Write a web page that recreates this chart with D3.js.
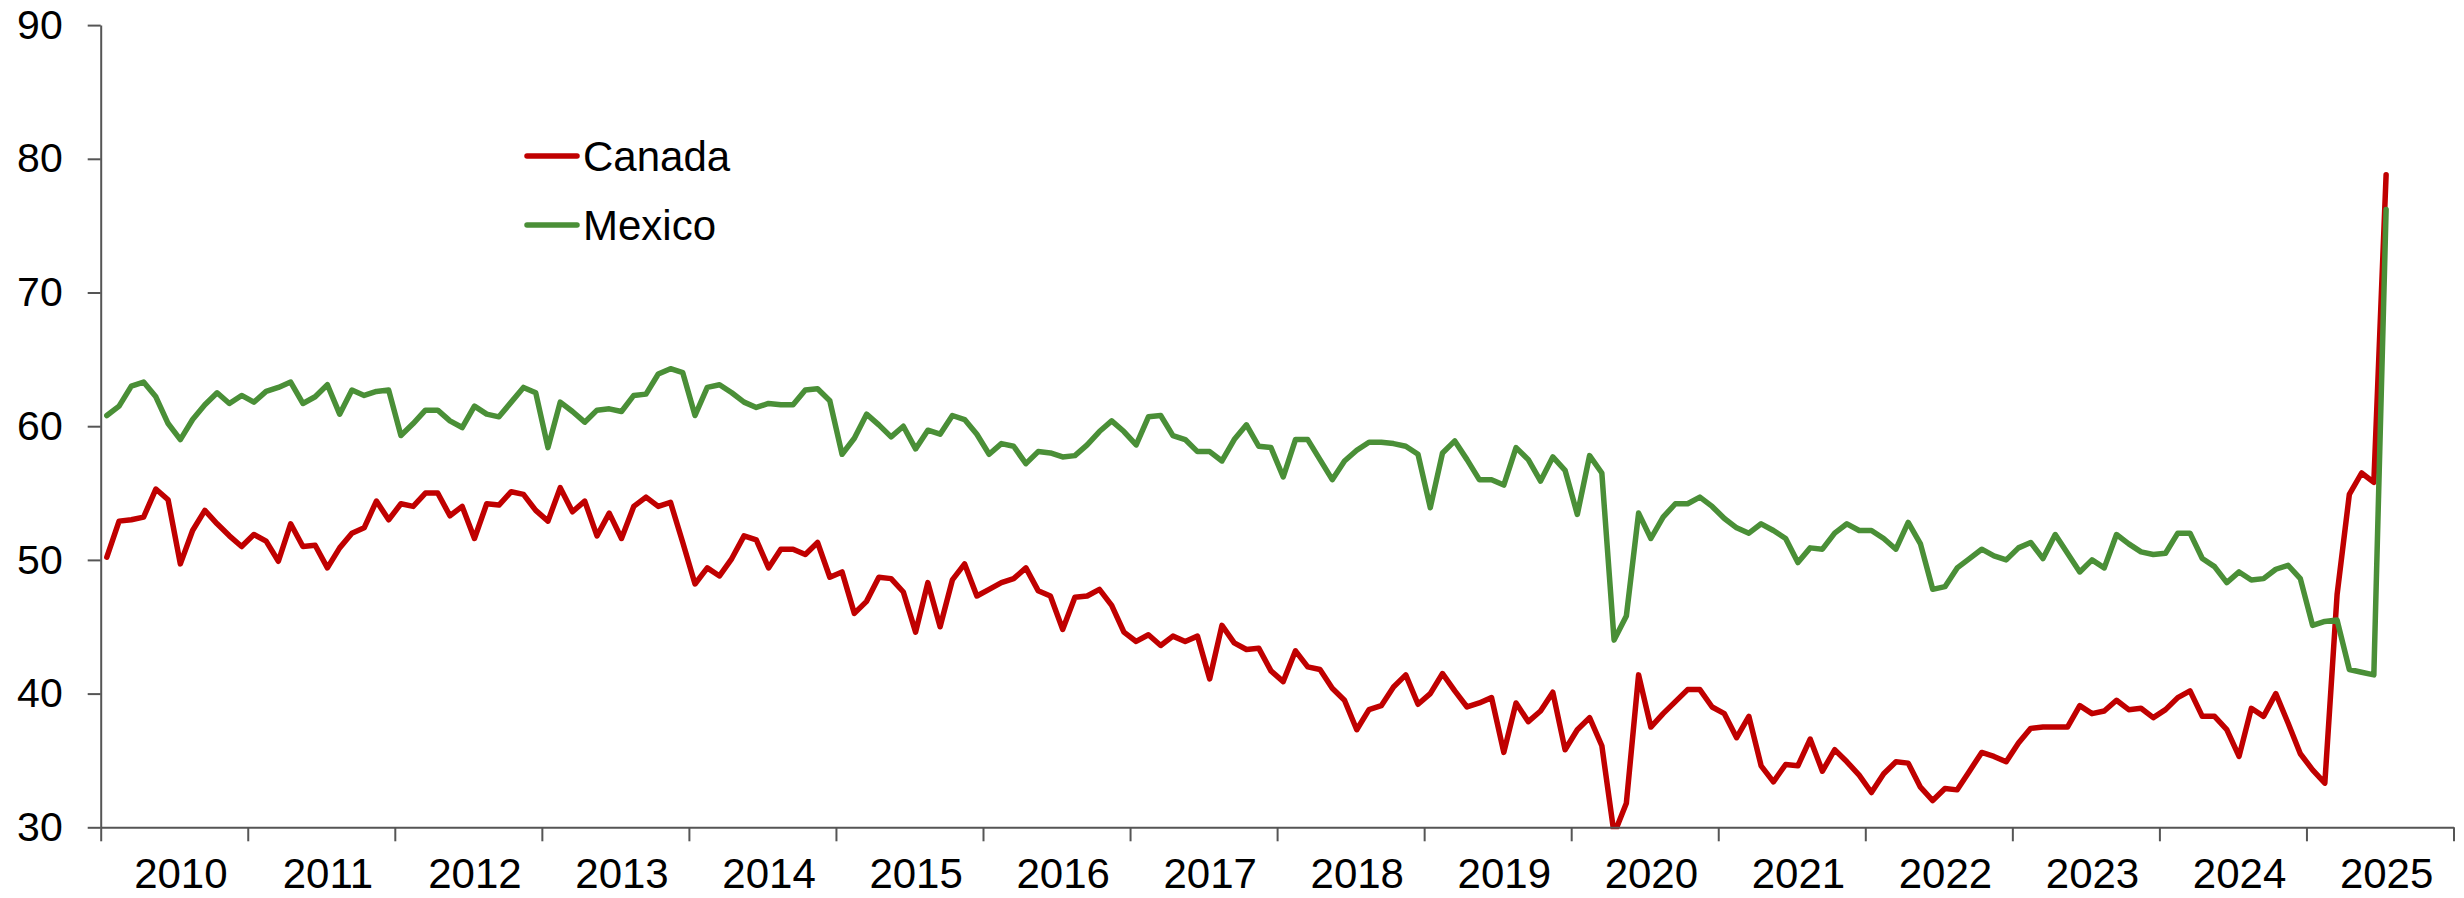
<!DOCTYPE html>
<html>
<head>
<meta charset="utf-8">
<script src="https://cdn.jsdelivr.net/npm/d3@7"></script>
<style>
  html, body { margin: 0; padding: 0; background: #ffffff; }
  svg { display: block; font-family: "Liberation Sans", Arial, sans-serif; }
</style>
</head>
<body>
<svg id="chart" width="2464" height="898"></svg>
<script>
// Monthly values, Jan 2010 .. Jul 2025
const canada = [
  50.2,52.9,53.0,53.2,55.3,54.5,49.7,52.2,53.7,52.7,51.8,51.0,
  51.9,51.4,49.9,52.7,51.0,51.1,49.4,50.9,52.0,52.4,54.4,53.0,
  54.2,54.0,55.0,55.0,53.3,54.0,51.6,54.2,54.1,55.1,54.9,53.7,
  52.9,55.4,53.6,54.4,51.8,53.5,51.6,54.0,54.7,54.0,54.3,51.3,
  48.2,49.4,48.8,50.1,51.8,51.5,49.4,50.8,50.8,50.4,51.3,48.7,
  49.1,46.0,46.9,48.7,48.6,47.6,44.6,48.3,45.0,48.5,49.7,47.3,
  47.8,48.3,48.6,49.4,47.7,47.3,44.8,47.2,47.3,47.8,46.6,44.6,
  43.9,44.4,43.6,44.3,43.9,44.3,41.1,45.1,43.8,43.3,43.4,41.7,
  40.9,43.2,42.0,41.8,40.4,39.5,37.3,38.8,39.1,40.5,41.4,39.2,
  40.0,41.5,40.2,39.0,39.3,39.7,35.6,39.3,37.9,38.7,40.1,35.8,
  37.3,38.2,36.1,29.5,31.8,41.4,37.5,38.5,39.4,40.3,40.3,39.0,
  38.5,36.7,38.3,34.6,33.4,34.7,34.6,36.6,34.2,35.8,34.9,33.9,
  32.6,34.0,34.9,34.8,33.0,32.0,32.9,32.8,34.2,35.6,35.3,34.9,
  36.3,37.4,37.5,37.5,37.5,39.1,38.5,38.7,39.5,38.8,38.9,38.2,
  38.8,39.7,40.2,38.3,38.3,37.3,35.3,38.9,38.3,40.0,37.8,35.5,
  34.3,33.3,47.4,54.9,56.5,55.8,78.8
];
const mexico = [
  60.8,61.5,63.0,63.3,62.2,60.2,59.0,60.5,61.6,62.5,61.7,62.3,
  61.8,62.6,62.9,63.3,61.7,62.2,63.1,60.9,62.7,62.3,62.6,62.7,
  59.3,60.2,61.2,61.2,60.4,59.9,61.5,60.9,60.7,61.8,62.9,62.5,
  58.4,61.8,61.1,60.3,61.2,61.3,61.1,62.3,62.4,63.9,64.3,64.0,
  60.8,62.9,63.1,62.5,61.8,61.4,61.7,61.6,61.6,62.7,62.8,61.9,
  57.9,59.1,60.9,60.1,59.2,60.0,58.3,59.7,59.4,60.8,60.5,59.4,
  57.9,58.7,58.5,57.2,58.1,58.0,57.7,57.8,58.6,59.6,60.4,59.6,
  58.6,60.7,60.8,59.3,59.0,58.1,58.1,57.4,59.0,60.1,58.5,58.4,
  56.2,59.0,59.0,57.5,56.0,57.4,58.2,58.8,58.8,58.7,58.5,57.9,
  53.9,58.0,58.9,57.5,56.0,56.0,55.6,58.4,57.5,55.9,57.7,56.7,
  53.4,57.8,56.5,44.0,45.8,53.5,51.6,53.2,54.2,54.2,54.7,54.0,
  53.1,52.4,52.0,52.7,52.2,51.6,49.8,50.9,50.8,52.0,52.7,52.2,
  52.2,51.6,50.8,52.8,51.2,47.8,48.0,49.4,50.1,50.8,50.3,50.0,
  50.9,51.3,50.1,51.9,50.5,49.1,50.0,49.4,51.9,51.2,50.6,50.4,
  50.5,52.0,52.0,50.1,49.5,48.3,49.1,48.5,48.6,49.3,49.6,48.6,
  45.1,45.4,45.5,41.8,41.6,41.4,76.2
];
const years = ["2010","2011","2012","2013","2014","2015","2016","2017",
               "2018","2019","2020","2021","2022","2023","2024","2025"];
const yTicks = [30, 40, 50, 60, 70, 80, 90];
const seriesNames = ["Canada", "Mexico"];
const seriesColors = ["#c00000", "#4a8f37"];

(function () {
  const svg = d3.select("#chart");
  const mLeft = 100.7, mRight = 2453.5, mTop = 25.1, mBottom = 827.3;
  const nMonths = years.length * 12;

  const x = d3.scaleLinear().domain([0, nMonths]).range([mLeft, mRight]);
  const y = d3.scaleLinear().domain([30, 90]).range([mBottom, mTop]);

  svg.append("defs").append("clipPath").attr("id", "plotclip")
    .append("rect").attr("x", mLeft).attr("y", 0)
    .attr("width", mRight - mLeft + 20).attr("height", mBottom + 2);

  const axisColor = "#555555";

  const line = d3.line()
    .x((d, i) => x(i + 0.5))
    .y(d => y(d));

  const seriesData = [canada, mexico];
  const g = svg.append("g").attr("clip-path", "url(#plotclip)");
  seriesData.forEach((s, k) => {
    g.append("path")
      .datum(s)
      .attr("fill", "none")
      .attr("stroke", seriesColors[k])
      .attr("stroke-width", 5.5)
      .attr("stroke-linejoin", "round")
      .attr("stroke-linecap", "round")
      .attr("d", line);
  });

  // Y axis
  const yAxis = d3.axisLeft(y).tickValues(yTicks).tickSizeInner(13).tickSizeOuter(0).tickPadding(25);
  const yg = svg.append("g").attr("transform", `translate(${mLeft},0)`).call(yAxis);
  yg.selectAll("path.domain").attr("stroke", axisColor).attr("stroke-width", 2);
  yg.selectAll(".tick line").attr("stroke", axisColor).attr("stroke-width", 2);
  yg.selectAll(".tick text").attr("fill", "#000").style("font-size", "41px")
    .style("font-family", '"Liberation Sans", Arial, sans-serif');

  // X axis tick marks at year boundaries
  const xTickVals = d3.range(0, nMonths + 1, 12);
  const xAxis = d3.axisBottom(x).tickValues(xTickVals).tickSizeInner(14).tickSizeOuter(0).tickFormat("");
  const xg = svg.append("g").attr("transform", `translate(0,${mBottom})`).call(xAxis);
  xg.selectAll("path.domain").attr("stroke", axisColor).attr("stroke-width", 2);
  xg.selectAll(".tick line").attr("stroke", axisColor).attr("stroke-width", 2);

  // X labels at year centres
  const xLabelAxis = d3.axisBottom(x)
    .tickValues(years.map((d, i) => i * 12 + 6.5))
    .tickSize(0).tickPadding(0)
    .tickFormat((d, i) => years[i]);
  const xl = svg.append("g").attr("transform", `translate(0,${mBottom})`).call(xLabelAxis);
  xl.select("path.domain").remove();
  xl.selectAll(".tick text")
    .attr("fill", "#000")
    .attr("dy", null)
    .attr("y", 61)
    .style("font-size", "42px")
    .style("font-family", '"Liberation Sans", Arial, sans-serif');

  // Legend
  const legend = svg.append("g");
  seriesNames.forEach((name, k) => {
    const ly = 156 + k * 69;
    legend.append("line")
      .attr("x1", 527).attr("x2", 577)
      .attr("y1", ly).attr("y2", ly)
      .attr("stroke", seriesColors[k])
      .attr("stroke-width", 5.5)
      .attr("stroke-linecap", "round");
    legend.append("text")
      .attr("x", 583).attr("y", ly + 15)
      .attr("fill", "#000")
      .style("font-size", "42px")
      .text(name);
  });
})();
</script>
</body>
</html>
